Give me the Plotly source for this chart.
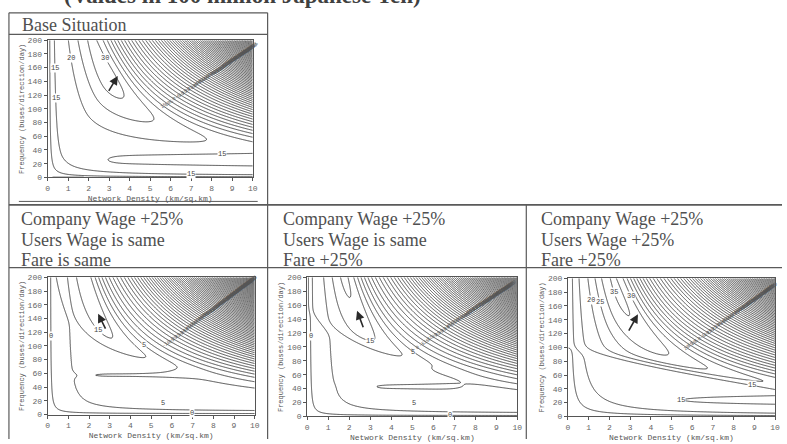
import numpy as np
import plotly.graph_objects as go

# ---- axes / grid -------------------------------------------------------
density_ticks = [0, 1, 2, 3, 4, 5, 6, 7, 8, 9, 10]
freq_ticks = [0, 20, 40, 60, 80, 100, 120, 140, 160, 180, 200]
density = np.linspace(0.02, 10, 270)      # km per sq.km
frequency = np.linspace(0.4, 200, 270)    # buses/direction/day
contour_step = 5                          # 100 million yen

panel_titles = [
    ["Base Situation"],
    ["Company Wage +25%", "Users Wage is same", "Fare is same"],
    ["Company Wage +25%", "Users Wage is same", "Fare +25%"],
    ["Company Wage +25%", "Users Wage +25%", "Fare +25%"],
]

# ---- net benefit surface parameters, one value per scenario -------------
plateau = [17.0, 7.5, 7.5, 13.5]           # low-frequency level
ridge_step = [0.0, 3.0, 3.0, 3.0]          # jump onto the service ridge
step_a = [-10.0, 2.33, 1.54, 1.00]         # ridge edge: a/(1+b*x)+c*x+d
step_b = [0.0, 2.0, 0.192, 0.0]
step_c = [0.0, -0.037, 0.0, -0.058]
step_d = [0.0, 0.74, 0.0, 0.0]
step_sharp = [0.03, 0.03, 0.03, 0.03]
peak_gain = [16.3, 10.5, 13.3, 21.0]
peak_density = [3.0, 1.75, 1.7, 2.5]
ridge_load = [4.6, 3.8, 3.8, 4.6]          # density x frequency/100 on the ridge
ridge_sigma_low = [2.3, 1.5, 1.75, 2.4]
ridge_sigma_high = [2.3, 1.5, 1.75, 2.4]
decay_right = [3.16, 2.5, 1.75, 6.0]
decay_left = [6.0, 4.0, 4.0, 8.0]
op_cost_lin = [6.0, 7.5, 7.0, 6.0]
op_cost_quad = [0.90, 0.95, 0.90, 0.85]
wall_density = [0.75, 2.44, 2.44, 1.45]
wall_power = [1.0, 0.635, 0.635, 1.0]
wall_freq = [0.05, 0.10, 0.10, 0.05]
wall_load = [0.27, 0.15, 0.15, 1.18]
wall_cap = [12.0, 12.0, 12.0, 10.0]
# tongue in the low-frequency area (positive depth = trough, negative = bump)
tongue_freq = [0.275, 0.575, 0.43, 0.235]
tongue_width = [0.10, 0.06, 0.08, 0.07]
tongue_depth = [2.4, 1.2, 1.3, -2.9]
tongue_slope = [0.38, 0.20, 0.20, -0.50]
tongue_tip = [3.74, 3.07, 3.80, 5.45]
tongue_end = [99.0, 7.1, 7.6, 99.0]

# optimum shift arrows: (density, frequency) of tail and head
arrow_tail = [(2.94, 124), (2.83, 123), (2.69, 126), (2.90, 122)]
arrow_head = [(3.42, 148), (2.44, 147), (2.37, 152), (3.38, 148)]

# where individual contour values are written, and the diagonal label band
label_spots = [
    [(0.25, 116), (0.7, 159), (1.4, 176), (2.9, 176), (8.5, 37), (7.0, 2)],
    [(0.25, 114), (2.5, 125), (4.75, 103), (5.6, 17), (7.0, 2)],
    [(0.3, 116), (3.0, 109), (4.9, 90), (5.1, 20), (6.8, 2)],
    [(0.9, 167), (1.44, 167), (2.1, 179), (2.98, 175), (8.8, 39), (5.45, 23)],
]
label_band = [((5.5, 100), (10, 190)), ((5.6, 99), (9.9, 196)),
              ((4.6, 86), (9.7, 189)), ((5.6, 96), (9.9, 188))]


def sigmoid(t):
    return 1.0 / (1.0 + np.exp(-np.clip(t, -60, 60)))


def net_benefit(i, X, Y):
    v = Y / 100.0
    w = X * v
    d = w - ridge_load[i]
    xr = np.sqrt(ridge_load[i] * X / v)
    s = xr - peak_density[i]
    dec = np.where(s < 0, decay_left[i], decay_right[i])
    height = peak_gain[i] * np.exp(-(np.sqrt(s ** 2 + 0.25) - 0.5) / dec)
    sig = np.where(d < 0, ridge_sigma_low[i], ridge_sigma_high[i])
    hill = height * np.exp(-(d / sig) ** 2)
    edge = step_a[i] / (1 + step_b[i] * X) + step_c[i] * X + step_d[i]
    on_ridge = sigmoid((v - edge) / step_sharp[i])
    fan = op_cost_lin[i] * 0.3 * np.log1p(np.exp(d / 0.3)) \
        + op_cost_quad[i] * np.clip(d, 0, None) ** 2
    walls = wall_density[i] / X ** wall_power[i] + wall_freq[i] / v + wall_load[i] / w
    walls = wall_cap[i] * np.tanh(walls / wall_cap[i])
    fade = sigmoid((X - tongue_tip[i] + 1.2) / 0.4) * sigmoid((tongue_end[i] - X) / 0.4)
    tdepth = (tongue_depth[i] + tongue_slope[i] * (X - tongue_tip[i])) * fade
    tongue = tdepth * np.exp(-((v - tongue_freq[i]) / tongue_width[i]) ** 2)
    return plateau[i] + (ridge_step[i] + hill) * on_ridge - fan - walls - tongue


W, H = 787, 444


def px(x):
    return x / W


def py(y):
    return 1 - y / H


# plot areas in pixels: (left, right, top, bottom)
areas = [(46, 253, 37, 177), (46, 255, 279, 419), (308, 520, 279, 421), (571, 780, 280, 421)]

fig = go.Figure()
ink = "#3a3a3a"
mono = "Liberation Mono"
serif = "Liberation Serif"

X, Y = np.meshgrid(density, frequency)
for i in range(4):
    Z = net_benefit(i, X, Y)
    ax = "" if i == 0 else str(i + 1)
    xa, ya = "x" + ax, "y" + ax
    fig.add_trace(go.Contour(
        x=density, y=frequency, z=np.round(Z, 2),
        xaxis=xa, yaxis=ya,
        contours=dict(start=-800, end=100, size=contour_step, coloring="lines",
                      showlabels=False),
        colorscale=[[0, ink], [1, ink]], showscale=False,
        line=dict(width=0.9, smoothing=1.0), hoverinfo="skip",
    ))
    l, r, t, b = areas[i]
    axis_common = dict(showgrid=False, zeroline=False, showline=True, mirror=True,
                       linecolor="#555", linewidth=1, ticks="outside", ticklen=3,
                       tickcolor="#555", tickfont=dict(family=mono, size=8, color="#666"))
    fig.update_layout(**{
        "xaxis" + ax: dict(domain=[px(l), px(r)], range=[0, 10], tickvals=density_ticks,
                           anchor=ya,
                           title=dict(text="Network Density (km/sq.km)", standoff=3,
                                      font=dict(family=mono, size=8, color="#555")),
                           **axis_common),
        "yaxis" + ax: dict(domain=[py(b), py(t)], range=[0, 200], tickvals=freq_ticks,
                           anchor=xa,
                           title=dict(text="Frequency (buses/direction/day)", standoff=2,
                                      font=dict(family=mono, size=7, color="#555")),
                           **axis_common),
    })

    # single contour values at chosen spots, snapped onto their contour line
    for (x0, y0) in label_spots[i]:
        z0 = float(net_benefit(i, np.array(x0), np.array(y0)))
        level = contour_step * round(z0 / contour_step)
        near = (np.abs(X - x0) < 0.5) & (np.abs(Y - y0) < 12)
        cost = np.abs(Z - level) + 2.0 * np.hypot((X - x0) / 0.5, (Y - y0) / 12)
        cost = np.where(near, cost, np.inf)
        k = np.unravel_index(np.argmin(cost), cost.shape)
        fig.add_annotation(x=float(X[k]), y=float(Y[k]), xref=xa, yref=ya,
                           text=str(int(level)), showarrow=False, borderpad=0,
                           bgcolor="white", font=dict(family=mono, size=7, color="#444"))

    # diagonal band of labels where the segment crosses each contour
    (bx0, by0), (bx1, by1) = label_band[i]
    tt = np.linspace(0, 1, 1500)
    sx = bx0 + (bx1 - bx0) * tt
    sy = by0 + (by1 - by0) * tt
    sz = net_benefit(i, sx, sy)
    bins = np.floor(sz / contour_step)
    for j in np.nonzero(np.diff(bins))[0]:
        level = contour_step * max(bins[j], bins[j + 1])
        fig.add_annotation(x=float(sx[j]), y=float(sy[j]), xref=xa, yref=ya,
                           text=str(int(level)), showarrow=False, borderpad=0,
                           textangle=-35,
                           font=dict(family=mono, size=5, color="#555"))

    tx, ty = arrow_tail[i]
    hx, hy = arrow_head[i]
    fig.add_annotation(x=hx, y=hy, ax=tx, ay=ty, xref=xa, yref=ya,
                       axref=xa, ayref=ya, text="", showarrow=True,
                       arrowhead=2, arrowsize=1.1, arrowwidth=1.6, arrowcolor="#2a2a2a")

# table frame
line_col = "#5a5a5a"
segments = [
    (7, 9, 7, 444, 1.2), (268, 9, 268, 444, 1.2), (529, 205, 529, 444, 1.2),
    (7, 9, 268, 9, 1.2), (7, 31, 268, 31, 1.2),
    (17, 201.5, 258, 201.5, 1.0), (7, 205, 787, 205, 1.6),
    (7, 269, 787, 269, 1.2),
]
for x0, y0, x1, y1, wd in segments:
    fig.add_shape(type="line", xref="paper", yref="paper", x0=px(x0), y0=py(y0),
                  x1=px(x1), y1=py(y1), line=dict(color=line_col, width=wd))

header_font = dict(family=serif, size=18, color="#505050")
fig.add_annotation(x=px(18), y=py(21), xref="paper", yref="paper", xanchor="left",
                   yanchor="middle", text=panel_titles[0][0], showarrow=False,
                   font=header_font)
for j, x0 in enumerate([17, 282, 542]):
    for k, yc in enumerate([219, 240.5, 261.5]):
        fig.add_annotation(x=px(x0), y=py(yc), xref="paper", yref="paper",
                           xanchor="left", yanchor="middle",
                           text=panel_titles[j + 1][k], showarrow=False,
                           font=header_font)

fig.add_annotation(x=px(243), y=py(5), xref="paper", yref="paper", xanchor="center",
                   yanchor="bottom", borderpad=0,
                   text="<b>(Values in 100 million Japanese Yen)</b>", showarrow=False,
                   font=dict(family=serif, size=23, color="#404040"))

fig.update_layout(width=W, height=H, margin=dict(l=0, r=0, t=0, b=0),
                  paper_bgcolor="white", plot_bgcolor="white", showlegend=False)
fig.write_html("out.html")
